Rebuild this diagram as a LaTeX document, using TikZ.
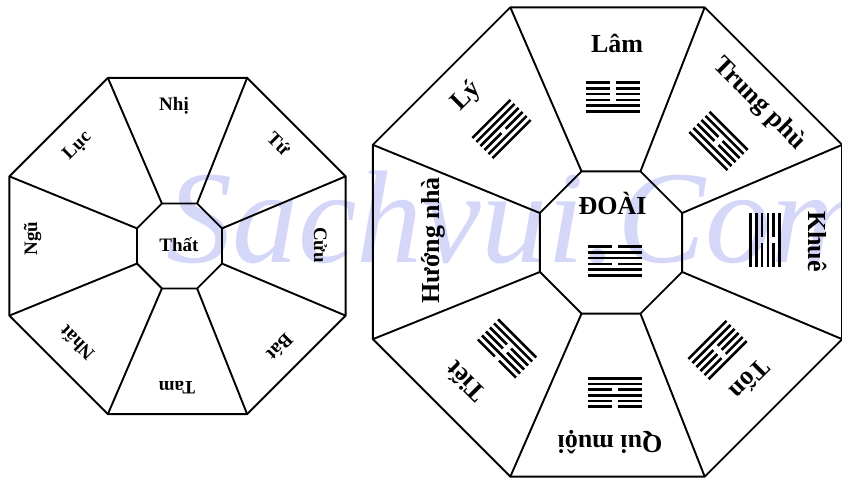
\documentclass[tikz,border=0pt]{standalone}
\usepackage{fontspec}
\setmainfont{Liberation Serif}
\usetikzlibrary{calc}

\definecolor{wmblue}{RGB}{212,215,248}

\tikzset{
  edge/.style={line width=1.9pt,line join=round},
  cung/.style={font=\bfseries\fontsize{19}{19}\selectfont,inner sep=0pt},
  que/.style={font=\bfseries\fontsize{26}{26}\selectfont,inner sep=0pt},
  hao/.style={line width=2.6pt}
}

% six lines, listed bottom to top (1 = solid, 0 = broken)
\newcommand{\hexlines}[3]{%
  \begin{scope}[shift={#1},rotate=#2]
    \foreach \b [count=\i] in {#3} {
      \pgfmathsetmacro{\yy}{(\i-3.5)*5.7}
      \ifnum\b=1
        \draw[hao] (-27,\yy) -- (27,\yy);
      \else
        \draw[hao] (-27,\yy) -- (-3,\yy);
        \draw[hao] (3,\yy) -- (27,\yy);
      \fi
    }
  \end{scope}}

\begin{document}
\begin{tikzpicture}[x=1pt,y=1pt]
  \useasboundingbox (0,0) rectangle (842,481);
  \node[anchor=base west,text=wmblue,inner sep=0pt,font=\itshape\fontsize{132}{132}\selectfont] (wm) at (166,218) {Sachvui.Com};

  % left octagon
  \coordinate (lc) at (177.5,235);
  \coordinate (lic) at (179.5,235);
  \foreach \k in {1,...,8} {
    \coordinate (lo\k) at ($(lc)+({45*\k-22.5}:182)$);
    \coordinate (li\k) at ($(lic)+({45*\k-22.5}:46)$);
  }
  \draw[edge] (lo1) -- (lo2) -- (lo3) -- (lo4) -- (lo5) -- (lo6) -- (lo7) -- (lo8) -- cycle;
  \draw[edge] (li1) -- (li2) -- (li3) -- (li4) -- (li5) -- (li6) -- (li7) -- (li8) -- cycle;
  \foreach \k in {1,...,8} \draw[edge] (li\k) -- (lo\k);

  \node[cung] (that) at (179,236.5) {Thất};
  \node[cung] (nhi) at (174,375) {Nhị};
  \node[cung,rotate=-45] (tu) at (279,337.5) {Tứ};
  \node[cung,rotate=-90] (cuu) at (320.5,236) {Cửu};
  \node[cung,rotate=-135] (bat) at (280,133.5) {Bát};
  \node[cung,rotate=180] (tam) at (177,93.5) {Tam};
  \node[cung,rotate=135] (nhat) at (76.5,137.5) {Nhất};
  \node[cung,rotate=90] (ngu) at (32.5,242.5) {Ngũ};
  \node[cung,rotate=45] (luc) at (77.5,335) {Lục};

  % right octagon
  \coordinate (rc) at (607.5,239);
  \coordinate (ric) at (611,238.5);
  \foreach \k in {1,...,8} {
    \coordinate (ro\k) at ($(rc)+({45*\k-22.5}:254)$);
    \coordinate (ri\k) at ($(ric)+({45*\k-22.5}:77)$);
  }
  \draw[edge] (ro1) -- (ro2) -- (ro3) -- (ro4) -- (ro5) -- (ro6) -- (ro7) -- (ro8) -- cycle;
  \draw[edge] (ri1) -- (ri2) -- (ri3) -- (ri4) -- (ri5) -- (ri6) -- (ri7) -- (ri8) -- cycle;
  \foreach \k in {1,...,8} \draw[edge] (ri\k) -- (ro\k);

  \node[que] (doai) at (612.5,278) {ĐOÀI};
  \node[que] (lam) at (617,438) {Lâm};
  \node[que,rotate=-45] (trungphu) at (759,377) {Trung phù};
  \node[que,rotate=-90] (khue) at (817.5,239.5) {Khuê};
  \node[que,rotate=-135] (ton) at (750.5,101) {Tốn};
  \node[que,rotate=180] (quimuoi) at (610,38.5) {Qui muội};
  \node[que,rotate=135] (tiet) at (465,99) {Tiết};
  \node[que,rotate=90] (huong) at (433,240.5) {Hướng nhà};
  \node[que,rotate=45] (ly) at (466.5,384.5) {Lý};

  \hexlines{(615,220)}{0}{1,1,0,1,1,0}
  \hexlines{(612.5,384)}{0}{1,1,0,0,0,0}
  \hexlines{(718.5,340)}{-45}{1,1,0,0,1,1}
  \hexlines{(765,241)}{-90}{1,1,0,1,0,1}
  \hexlines{(717.5,131)}{-135}{1,1,0,0,0,1}
  \hexlines{(615,88.5)}{180}{1,1,0,1,0,0}
  \hexlines{(507,132.5)}{135}{1,1,0,0,1,0}
  \hexlines{(501.5,352)}{45}{1,1,0,1,1,1}
\end{tikzpicture}
\end{document}
